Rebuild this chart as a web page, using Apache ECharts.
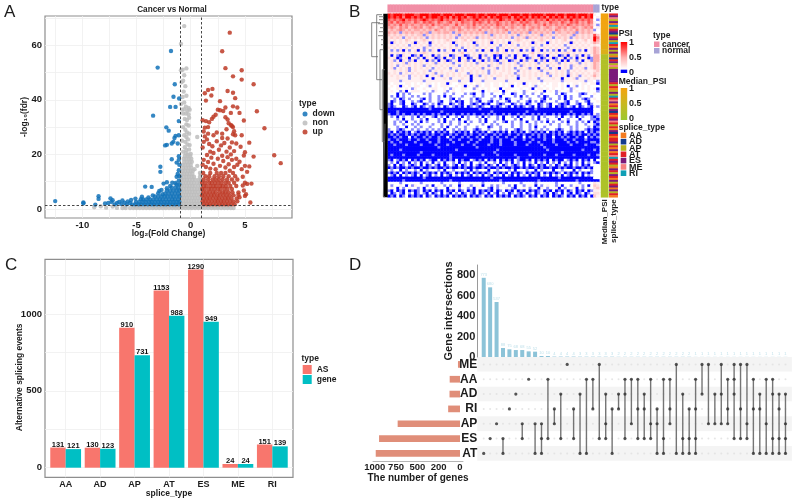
<!DOCTYPE html>
<html><head><meta charset="utf-8">
<style>html,body{margin:0;padding:0;background:#fff}#c{width:796px;height:502px}#c canvas{filter:blur(0.45px)}</style>
<script src="https://cdn.jsdelivr.net/npm/echarts@6/dist/echarts.min.js"></script>
</head><body><div id="c"></div>
<script>
// ---------- Panel A: volcano ----------
const volcanoDownSparse = [[-12.5,2.9],[-9.9,2.4],[-9.9,2.1],[-8.5,4.7],[-8.5,3.7],[-8.8,1.6],[-7.9,2],[-7.6,2.2],[-7.4,3.9],[-7.3,2.6],[-7.2,3.2],[-7,1.7],[-6.8,2.2],[-6.6,2.6],[-6.4,1.8],[-6.3,3.1],[-6.1,2.3],[-5.9,1.7],[-5.8,2.8],[-5.6,2.2],[-5.5,3.3],[-5.1,3.8],[-4.6,3.6],[-4.5,4.5],[-4.2,8.2],[-3.9,4.2],[-3.6,8.1],[-3.5,5],[-3,5.8],[-2.9,6.6],[-2.7,7],[-2.6,5.4],[-2.5,9.3],[-2.2,7.6],[-2.2,9.8],[-1.9,8.4],[-1.7,9.6],[-1.4,9.5],[-1.3,11.8],[-1.2,12.8],[-1.1,14.2],[-1.05,12],[-2.8,15.5],[-2.8,13.6],[-1.75,18.2],[-1.3,17],[-1.1,19.3],[-1.1,18],[-1.05,16.2],[-2.2,23.5],[-2.36,23.3],[-1.75,24],[-1.6,24.6],[-1.2,24],[-1.5,26],[-1.4,26.8],[-1.1,27],[-2.25,29.9],[-2.03,28.7],[-1.1,32.2],[-3.47,34.2],[-1.9,37.4],[-1.4,37.4],[-1.07,40.5],[-1.59,41.1],[-1.47,45.7],[-3.05,51.8],[-1.82,57.9]];
const volcanoDownRows = [[1.7,[-1.1,-1.4,-1.65,-1.95,-2.25,-2.5,-2.8,-3.1,-3.4,-3.65,-3.95,-4.25,-4.55,-4.8,-5.1,-5.4]],[2.6,[-1.05,-1.3,-1.6,-1.9,-2.15,-2.45,-2.75,-3,-3.3,-3.6,-3.85,-4.15,-4.45,-4.75,-5.05]],[3.5,[-1.15,-1.45,-1.7,-2,-2.3,-2.6,-2.85,-3.15,-3.45,-3.75,-4.1,-4.4]],[4.6,[-1.05,-1.3,-1.6,-1.85,-2.15,-2.4,-2.7,-3,-3.3]],[5.7,[-1.15,-1.45,-1.75,-2.05,-2.35]],[6.8,[-1.05,-1.3,-1.6,-1.9,-2.2]],[7.9,[-1.15,-1.4,-1.75]],[9,[-1.05,-1.3]],[10.4,[-1.1]]];
const volcanoNonSparse = [[-0.6,67],[-0.9,60.5],[-0.75,51],[-0.4,51.5],[-0.9,50.8],[-0.6,49],[-0.7,47],[-0.85,46.4],[-0.5,45],[-0.65,43],[-0.75,41],[-0.4,41.5],[-0.6,39],[-0.9,38.5],[-0.45,37.5],[-0.2,37],[-0.8,36.4],[-0.6,36.6],[-0.3,36],[-0.1,36.4],[-0.7,35],[-0.45,35],[-0.2,34.6],[-0.55,33],[-0.35,32.6],[-0.15,33.4],[-0.4,31],[-0.7,30],[-0.2,30.6],[-0.5,29],[-0.35,28],[-0.6,27],[-0.15,27.6],[-0.4,26.4],[-0.25,25.5],[-0.8,25],[0.6,26.4],[-0.5,24.6],[-0.3,23.6],[-0.1,23.4],[-0.55,22.6],[-0.4,21.6],[-0.15,21.8],[-0.7,21],[-0.45,20.4],[-0.25,20],[0,20.2],[-8.9,0.6],[-8.3,1],[-7.8,0.5],[-7.2,0.9],[-6.8,0.4],[0.85,13.2],[0.95,12.6],[0.6,15.8],[0.35,14.6]];
const volcanoNonRows = [[0.35,[-6.3,-6,-5.6,-5.3,-5,-4.7,-4.4,-4.1,-3.8,-3.5,-3.2,-2.9,-2.6,-2.3,-2,-1.7,-1.4,-1.1,-0.8,-0.5,-0.2,0.1,0.4,0.7,1,1.3,1.6,1.9,2.2,2.5,2.8,3.1,3.4,3.7,3.95]],[1,[-6.1,-5.2,-4.8,-4.3,-3.9,-3.4,-3,-2.7,-2.4,-2.1,-1.8,-1.5,-1.2,-0.9,-0.6,-0.3,0,0.3,0.6,0.9,1.2,1.5,1.8,2.1,2.5,3,3.5]],[1.9,[-0.9,-0.65,-0.4,-0.15,0.1,0.35,0.6,0.85]],[3,[-0.95,-0.7,-0.45,-0.2,0.05,0.3,0.55,0.8]],[4.1,[-0.85,-0.6,-0.35,-0.1,0.15,0.4,0.65,0.9]],[5.2,[-0.95,-0.7,-0.45,-0.2,0.05,0.3,0.55,0.8]],[6.3,[-0.85,-0.6,-0.35,-0.1,0.15,0.4,0.65,0.95]],[7.4,[-0.9,-0.65,-0.4,-0.15,0.1,0.35,0.6,0.85]],[8.5,[-0.85,-0.6,-0.35,-0.1,0.15,0.4,0.7,0.95]],[9.6,[-0.95,-0.7,-0.45,-0.2,0.05,0.3,0.6,0.85]],[10.7,[-0.85,-0.6,-0.35,-0.1,0.15,0.4,0.75,0.95]],[11.8,[-0.9,-0.65,-0.4,-0.15,0.1,0.3,0.85]],[12.9,[-0.85,-0.6,-0.35,-0.1,0.15]],[14,[-0.75,-0.5,-0.25,0,0.2]],[15.1,[-0.7,-0.45,-0.2,0.05]],[16.2,[-0.75,-0.5,-0.25,0]],[17.3,[-0.6,-0.35,-0.1,0.1]],[18.4,[-0.65,-0.4,-0.15,0.05]],[19.4,[-0.55,-0.3,-0.05]]];
const volcanoUpSparse = [[3.6,64.6],[2.9,57.8],[3.2,51.6],[4.7,50.8],[3.9,48.6],[4.7,47.4],[5.8,45.7],[2.0,44],[1.6,43.6],[3.4,43.2],[1.3,42.4],[3.9,42.6],[1.9,41.6],[4.1,40.6],[1.4,39.7],[2.7,39.5],[3.9,37.6],[4.3,37.2],[3.2,37.2],[6.1,35.8],[2.5,36.4],[2.7,36.2],[3,35.9],[3.7,35.2],[4.5,35.2],[2.3,34.5],[2.1,33.8],[3.2,33.6],[1.95,33],[1.1,32.5],[3.4,32.8],[1.4,32.2],[4.9,32.4],[1.7,31.8],[3.5,31.4],[3.8,30.4],[1.3,29.8],[3.7,30.8],[3.9,30],[6.8,29.6],[1.6,30],[3.3,29.2],[1.2,28.4],[4,28.5],[2.4,28],[2.9,27.6],[3.9,27.4],[1.6,27.6],[4.1,27],[2.1,27],[4.7,27],[1.3,26.6],[2.9,26],[1.5,25.5],[2.4,24.8],[3.4,25.8],[1.2,24.6],[3.1,24.2],[3.8,24.4],[5.4,24.3],[4.2,24],[1.7,23.8],[2,23],[2.8,23.3],[3.6,22.5],[4.6,22.8],[1.1,22.5],[2.6,21.7],[5,20.8],[1.8,21],[3.3,21],[2.1,20.5],[3.7,20],[4,21.2],[1.5,19.8],[2.9,19.5],[4.9,19.6],[5.8,19.2],[7.7,19.7],[1.9,18.8],[3.4,19],[4.2,18.4],[1.2,18],[2.5,18.4],[3,17.6],[3.8,18],[4.5,17.3],[8.3,16.8],[1.6,17.2],[2.1,16.6],[3.5,16.4],[4.3,16.2],[1.1,16.2],[2.7,15.8],[5,15.8],[4,15.4],[5.4,15.6],[1.4,15.4],[3.2,15.2],[1.8,14.8],[2.3,14.6],[4.7,14.6],[3.6,14],[5.2,13.6],[4.8,11.8],[5,9.6],[4.8,8.6],[5.2,9.2],[5.6,9.3],[4.9,6.8],[4.4,5.2],[5.1,5.4],[4.5,4.3],[5,4.8],[5.5,2.4]];
const volcanoUpRows = [[1.7,[1.2,1.5,1.75,2.05,2.35,2.65,2.9,3.2,3.45,3.75,4.05]],[2.8,[1.1,1.35,1.65,1.95,2.25,2.5,2.8,3.05,3.35,3.65,3.95,4.3]],[3.9,[1.2,1.5,1.75,2.05,2.35,2.6,2.9,3.2,3.45,3.75,4.25]],[5,[1.05,1.3,1.6,1.9,2.15,2.45,2.7,3,3.3,3.6,3.95]],[6.1,[1.15,1.45,1.75,2.05,2.3,2.65,2.95,3.2,3.5,3.85,4.4]],[7.3,[1.05,1.3,1.65,1.9,2.2,2.5,2.75,3.1,3.4,3.8]],[8.4,[1.2,1.45,1.8,2.1,2.35,2.7,2.95,3.25,3.65,4.2]],[9.6,[1.05,1.35,1.7,1.95,2.25,2.55,2.85,3.2,3.5,4]],[10.8,[1.2,1.6,2,2.3,2.6,2.95,3.35,3.8,4.3]],[12,[1.35,1.7,2.2,2.6,3,3.5,4.1]],[13.2,[1.15,1.8,2.4,2.8,3.2,3.9]]];
const fdrLine = 1.3, fcLines = [-1, 1];

// ---------- Panel C: bars ----------
const spliceTypes = ['AA','AD','AP','AT','ES','ME','RI'];
const asEvents   = [131,130,910,1153,1290,24,151];
const geneEvents = [121,123,731,988,949,24,139];

// ---------- Panel B: heatmap (digit 0..9 = PSI level, 0 blue, 2 white, 9 red) ----------
const heatRows = [
"9899989998 8999899989 9989998999 8998999899 9899989989 9998999899 8999899989 32",
"9898979989 8979899898 9798989789 8989798998 8979898979 8989798989 7989897989 23",
"8787897878 7898787897 8787987878 9787878798 7878979787 8787978787 8797878787 21",
"7868787768 7687876876 7867687768 7876867876 7687687876 8767687768 7687867687 32",
"7676867676 6767686767 7668676768 6767676876 7676768676 6768676767 6876767676 31",
"6765767567 6756765676 5676756767 6576756767 5676567567 6756765676 7567656767 23",
"5656765656 6565657656 5665765656 5756565656 7565656576 5656565765 6565756565 12",
"6565156565 5656155656 6515656565 6561565656 5156565615 6565651565 5656156565 32",
"5454545454 5515454545 4545145454 5454515454 5454154545 4515454545 5451545454 85",
"4545414545 4541454545 4541454545 1454545454 5414545154 5454541454 5414545454 97",
"4343435434 3454343434 5434345343 4343453434 3434543434 3454343434 5343434534 96",
"4043434340 4343043434 3404343430 4343403434 3043434340 4343043434 3404343434 65",
"3434343134 3434134343 3431343434 1343434313 4343134343 4313434343 1343434343 43",
"4343434343 4314343434 3434313434 3434343134 3434343431 3434343434 3134343434 65",
"3131403134 0313143031 3403130343 1303403134 0313403130 3403131403 1340313034 65",
"3434343434 3454343434 4343453434 3434344534 4343434345 3434343434 4534343434 65",
"3031043301 4034304134 3014340134 3041340103 4130430134 3014034301 4034130413 66",
"4340134034 1304340140 3413043013 4034130403 1340343014 3401340134 0413043401 66",
"3413043140 3430413034 0134034130 3403141034 3014304134 0314034130 4034130341 66",
"3434341434 3434341434 3413434343 1434343414 3434134343 4134343413 4343413434 65",
"3431343434 3413434343 4343134343 4343143434 3434314343 4343134343 4314343434 65",
"3413434134 3434313434 3134343434 3413434134 3431343413 4034313403 4313434134 65",
"3343434134 3343134343 3431343343 4343134334 3433134343 3413433434 3134343433 45",
"4343134343 4343341343 4343433143 4343134343 3431434343 4343143434 3143434343 54",
"3434343134 3430343413 4343434303 4134343443 4343134343 4343413434 3043413434 64",
"3334333133 3433303334 3133343303 3334331333 4333033343 3133334330 3334133343 43",
"3333133333 3313333333 3333133303 3313333333 1333333333 3313333331 3333333133 21",
"3233223323 2323323233 0322333232 3323323323 2332330323 3232323323 2323323323 30",
"2323032323 3223123233 3223230323 1323323323 2302323323 1323223323 2023123232 22",
"3223223213 2232233223 2132233221 3232322302 3322232230 2332323223 2213223232 30",
"2322130233 3223213223 1232232223 2302323320 3223221322 3230232132 2312322232 21",
"2220212122 2212122221 2212221210 2212212221 2201221221 2212222120 1222210122 32",
"2120212212 1222122120 2122212221 2212221202 2221202122 2120122212 0212212221 22",
"2212012122 2102122122 2102122212 0122212212 0122212212 2210212212 0212221012 32",
"2012102212 1022122102 2120102212 1022102122 1022122102 1201222122 1022122102 23",
"1022102201 2201212012 2012102210 1201022101 2201212012 2012102210 1022102201 22",
"1012201210 2012102120 1210102012 1012201012 1020101210 2012102010 1210201210 31",
"0000000000 0000100000 0000000000 0100000000 0000000000 1000000000 0000000000 22",
"0001000000 0000000010 0000000000 0000010000 0000000100 0000000000 0010000000 22",
"1001010010 1010010100 1010010101 0010101001 0100101001 0101001010 0101001010 31",
"2120212212 0212210212 0221202122 1202122120 2212021221 2021222120 2212021221 01",
"2221202212 2120222120 2212022122 2120222120 2221202221 2022122202 2122202221 10",
"2212120221 2021222120 2122120212 2120221221 0212212022 1212021221 2022121202 01",
"2212212212 1222212212 2122122122 2212212122 2212212212 1222212212 2122122122 10",
"2221220221 2122122212 0221221222 1222012212 2212212212 0221222212 2212122212 01",
"1221012212 1221212120 2212121221 0122122212 1221012212 1212122101 2212122101 00",
"1020101021 0101020101 0210101020 1010210101 0201010210 1010201010 2101010201 01",
"0101001010 1001010010 0101001010 0101001010 0100101001 0101001010 1001010010 10",
"0010100201 0010100100 2010010100 1020010100 1001002010 0101002001 0100100201 01",
"1001000100 1001000100 0100100010 0100010010 0010001001 0001001000 1001000100 00",
"0100100001 0000100100 0010000100 1000010010 0001000010 0100001000 0100100001 10",
"0010001000 0100001000 1000010001 0000100010 0001000100 0010000100 0010000100 01",
"0000000000 0000000100 0000000000 1000000000 0000000000 0001000000 0000000000 00",
"0000100000 0000000000 0001000000 0000000100 0000000000 0000100000 0000001000 10",
"0000000000 0100000000 0000000000 0000001000 0000000000 0000000001 0000000000 00",
"0100010000 1000010000 0100001000 0010000100 0001000010 0001000100 0001000010 01",
"0000000000 0000000000 0100000000 0000000000 0000100000 0000000000 0000000000 00",
"1021010201 0102100201 0102010021 0102010201 0102100102 0101020100 2101020102 02",
"2120212021 2021202120 2212021202 2120221202 1202120212 0212021202 1202120212 10",
"1202012101 2020121020 1210201202 1012012020 1210120201 2010212012 0102120102 22",
"0101001010 0100101001 0100101001 0010100101 0010010100 1010010010 1001001010 22",
"2122021221 2021222120 2212221202 1222022122 2120222122 0212220221 2220212221 22",
"1010201010 1201010201 0120101020 1010120101 0201012010 1020101012 0101020101 22",
"2102021210 2021021202 1021202102 1202102120 2102021202 1021202120 2102120212 22",
"0000000000 0010000000 0000000000 0000010000 0000000000 0000000010 0000000000 22",
"0000010000 0000000000 0100000000 0000000010 0000000000 0100000000 0000100000 00",
"2222122222 2122222212 2222122222 2212222221 2222212222 1222222122 2222212222 43",
"2122320213 2221202321 2122032212 3202212132 2120221232 0212322120 2212321202 54",
"2320212322 1202321222 0232122120 2322102122 3210223212 2032122302 1223021232 45",
"1020102010 1201020102 0102012010 2010102012 0102010201 0120102010 2012010201 33",
"2012102120 1210201202 1021201210 2012021021 2012102012 0121020120 2102012012 44",
"0102012010 1020120101 0201010201 0120102010 1020101201 0201020101 2010201020 53"
];
const sampleType = "c".repeat(70) + "nn";
const medianPsi = [0.98,0.97,0.95,0.92,0.9,0.85,0.8,0.72,0.25,0.24,0.25,0.23,0.24,0.22,0.22,0.23,0.21,0.22,0.2,0.21,0.2,0.2,0.19,0.2,0.2,0.19,0.18,0.2,0.19,0.18,0.2,0.19,0.18,0.19,0.18,0.2];
const spliceAnno = "TEMPEARPTEDPTEPRTAEPEPADTEPMPEEEEEEETPTAPEPRTMEATPEDTATEMTPTAEDTATTEPTAEATMRTETPAETPETAEPTEAEPTA";
const psiStops = ['#0000ff','#8c8cff','#ffffff','#fff0f0','#ffe0e0','#ffc8c8','#ffa8a8','#ff8080','#ff4d4d','#ff0000'];
const dendroSegs = [
 [[10,9],[1.7,9],[1.7,43],[8,43]],
 [[12,1],[6.7,1],[6.7,66],[12,66]],
 [[14,36],[10,36],[10,96],[14,96]],
 [[15,56],[12.3,56],[12.3,128],[15,128]],
 [[15,110],[13.3,110],[13.3,183],[15,183]],
 [[9,3],[14,3]],[[9,6],[14,6]],[[8,10],[14,10]],[[10,14],[14,14]],[[9,18],[14,18]],[[8,22],[14,22]],[[11,26],[14,26]],[[11,31],[14,31]]
];
const dendroTrunk = [[15.5,0],[15.5,183.6]];

// ---------- Panel D: upset ----------
const upsetSets = ['ME','AA','AD','RI','AP','ES','AT'];
const setSizes  = [24,121,123,139,731,949,988];
const upsetBars = [773,680,537,88,75,68,68,55,52,10,10,4,4,4,4,3,3,3,3,3,3,2,2,2,2,2,2,2,2,2,2,2,2,1,1,1,1,1,1,1,1,1,1,1,1,1,1,1];
const upsetCombos = ['AT','ES','AP','ES AT','RI','AD','AP ES','AA','AP AT','AP ES AT','AA ES','RI AP','AD ES','ME','RI ES','AD AT','AA AT','AA RI','ME ES','AD AP ES','RI AT','AD RI','AA AD ES','AA AP','AA RI ES','AD RI ES','AA AP ES','RI AP AT','AA ES AT','AA RI AP','ME AT','AD ES AT','RI ES AT','AA RI ES AT','ME AD','ME AP','AD AP','ME AD AP','AA RI AP','ME AA AD ES','ME RI ES','ME AP ES','AA RI AT','AD RI AT','AA AP AT','AA AD ES AT','AD RI ES AT','AD AP ES AT'];
const setTickValues = [0,250,500,750,1000];
const setTickLabels = ['0','200','500','750','1000'];

// ---------- styling ----------
const FONT = '"Liberation Sans", Arial, sans-serif';
const TXT = '#1c1c1c';
const FRAME = '#8e8e8e', GRID = '#efefef';
const T = (x,y,text,size,o={}) => ({type:'text',x,y,silent:true,style:{text,font:`${o.weight||'bold'} ${size}px ${FONT}`,fill:TXT,textAlign:o.align||'left',textVerticalAlign:'middle'}});
const R = (x,y,w,h,fill) => ({type:'rect',silent:true,shape:{x,y,width:w,height:h},style:{fill}});
const unrow = rows => rows.flatMap(([y,xs]) => xs.map(x => [x,y]));

const volcanoDown = volcanoDownSparse.concat(unrow(volcanoDownRows));
const volcanoNon = volcanoNonSparse.concat(unrow(volcanoNonRows));
const volcanoUp = volcanoUpSparse.concat(unrow(volcanoUpRows));

const heatCols = Array.from({length:72},(_,i)=>i);
const heatRowIdx = heatRows.map((_,i)=>i);
const heatData = [];
heatRows.forEach((row,r)=>{ const s=row.replace(/ /g,''); for(let c=0;c<s.length;c++) heatData.push([c,r,+s[c]]); });
const spliceCodes = {A:0,D:1,P:2,T:3,E:4,M:5,R:6};
const spliceColors = ['#f47b20','#123a8c','#b5b21e','#e01f26','#7b1a7a','#f58080','#0f9fb5'];

const hid = {show:false};
const grids = [
 {left:45,top:16,width:247,height:202,show:true,borderColor:FRAME,borderWidth:1.2,backgroundColor:'#fff'},
 {left:45,top:259.3,width:248,height:218,show:true,borderColor:FRAME,borderWidth:1.2,backgroundColor:'#fff'},
 {left:387.7,top:13.7,width:211.6,height:183.6},
 {left:387.7,top:4.7,width:211.6,height:7.6},
 {left:601,top:13.7,width:7.3,height:183.6},
 {left:609.3,top:13.7,width:8.4,height:183.6},
 {left:370,top:13.7,width:17.7,height:183.6},
 {left:477.3,top:265,width:314.6,height:92},
 {left:477.3,top:357,width:314.6,height:103.8},
 {left:373,top:357,width:90,height:103.8}
];
const labelStyle = {color:TXT,fontWeight:'bold',fontFamily:FONT};
const nameStyle = {color:TXT,fontWeight:'bold',fontFamily:FONT,fontSize:8.5};
const xAxes = [
 {gridIndex:0,type:'value',min:-13.44,max:9.34,name:'log₂(Fold Change)',nameLocation:'middle',nameMoveOverlap:false,nameGap:11,nameTextStyle:nameStyle,axisLine:hid,axisTick:{show:false,customValues:[-12.5,-10,-7.5,-5,-2.5,0,2.5,5,7.5]},axisLabel:Object.assign({customValues:[-10,-5,0,5],margin:2,fontSize:9.5},labelStyle),splitLine:{lineStyle:{color:GRID,width:0.8}}},
 {gridIndex:1,type:'value',min:-0.6,max:6.6,name:'splice_type',nameLocation:'middle',nameMoveOverlap:false,nameGap:11.5,nameTextStyle:nameStyle,axisLine:hid,axisTick:{show:false,customValues:[0,1,2,3,4,5,6]},axisLabel:Object.assign({customValues:[0,1,2,3,4,5,6],margin:3,fontSize:9,formatter:v=>spliceTypes[Math.round(v)]},labelStyle),splitLine:{lineStyle:{color:GRID,width:0.8}}},
 {gridIndex:2,type:'category',data:heatCols,show:false},
 {gridIndex:3,type:'category',data:heatCols,show:false},
 {gridIndex:4,type:'category',data:['Median_PSI'],axisLine:hid,axisTick:hid,axisLabel:Object.assign({rotate:90,fontSize:8,margin:2,interval:0},labelStyle)},
 {gridIndex:5,type:'category',data:['splice_type'],axisLine:hid,axisTick:hid,axisLabel:Object.assign({rotate:90,fontSize:8,margin:2,interval:0},labelStyle)},
 {gridIndex:6,type:'value',min:0,max:17.7,show:false},
 {gridIndex:7,type:'value',min:-1,max:48,show:false},
 {gridIndex:8,type:'value',min:-1,max:48,show:false},
 {gridIndex:9,type:'value',inverse:true,min:-35,max:1020,name:'The number of genes',nameLocation:'middle',nameMoveOverlap:false,nameGap:12,nameTextStyle:Object.assign({},nameStyle,{fontSize:10}),axisLine:{show:true,onZero:false,lineStyle:{color:'#b5b5b5',width:1}},axisTick:{show:false,customValues:setTickValues},axisLabel:Object.assign({customValues:setTickValues,margin:2,fontSize:9.5,formatter:v=>setTickLabels[setTickValues.indexOf(v)]},labelStyle),splitLine:hid}
];
const yAxes = [
 {gridIndex:0,type:'value',min:-3.3,max:70.7,name:'-log₁₀(fdr)',nameLocation:'middle',nameMoveOverlap:false,nameGap:16,nameTextStyle:nameStyle,axisLine:hid,axisTick:{show:false,customValues:[0,10,20,30,40,50,60,70]},axisLabel:Object.assign({customValues:[0,20,40,60],margin:3,fontSize:9.5},labelStyle),splitLine:{lineStyle:{color:GRID,width:0.8}}},
 {gridIndex:1,type:'value',min:-62.5,max:1356,name:'Alternative splicing events',nameLocation:'middle',nameMoveOverlap:false,nameGap:21,nameTextStyle:Object.assign({},nameStyle,{padding:[0,18,0,0]}),axisLine:hid,axisTick:{show:false,customValues:[0,250,500,750,1000,1250]},axisLabel:Object.assign({customValues:[0,500,1000],margin:3,fontSize:9.5,formatter:v=>String(v)},labelStyle),splitLine:{lineStyle:{color:GRID,width:0.8}}},
 {gridIndex:2,type:'category',inverse:true,data:heatRowIdx,show:false},
 {gridIndex:3,type:'category',data:['type'],show:false},
 {gridIndex:4,type:'category',inverse:true,data:medianPsi.map((_,i)=>i),show:false},
 {gridIndex:5,type:'category',inverse:true,data:spliceAnno.split('').map((_,i)=>i),show:false},
 {gridIndex:6,type:'value',inverse:true,min:0,max:183.6,show:false},
 {gridIndex:7,type:'value',min:0,max:898,interval:200,name:'Gene intersections',nameLocation:'middle',nameMoveOverlap:false,nameGap:23,nameTextStyle:Object.assign({},nameStyle,{fontSize:11}),axisLine:{show:true,onZero:false,lineStyle:{color:'#9a9a9a',width:1}},axisTick:hid,axisLabel:Object.assign({margin:2,fontSize:11},labelStyle),splitLine:hid},
 {gridIndex:8,type:'category',inverse:true,data:upsetSets,axisLine:{show:false,onZero:false},axisTick:hid,axisLabel:Object.assign({margin:0,fontSize:12,interval:0},labelStyle),splitLine:hid,splitArea:{show:true,interval:0,areaStyle:{color:['#f4f4f4','#ffffff']}}},
 {gridIndex:9,type:'category',inverse:true,data:upsetSets,show:false}
];

const refLines = {silent:true,symbol:'none',label:{show:false},animation:false,lineStyle:{color:'#333',type:[2.5,2],width:0.9},data:[{yAxis:fdrLine},{xAxis:fcLines[0]},{xAxis:fcLines[1]}]};
const volcano = (name,data,color) => ({name,type:'scatter',xAxisIndex:0,yAxisIndex:0,data,symbolSize:4.4,itemStyle:{color,opacity:0.85},silent:true,z:3});
const barS = (name,data,color) => ({name,type:'bar',xAxisIndex:1,yAxisIndex:1,barWidth:15.4,barGap:'0%',data:data.map((v,i)=>[i,v]),itemStyle:{color},label:{show:true,position:'top',distance:-1,fontSize:7.5,fontWeight:'bold',color:'#111',fontFamily:FONT,formatter:p=>p.value[1]},silent:true});

const bgDots = []; upsetCombos.forEach((_,c)=>upsetSets.forEach(s=>bgDots.push([c,s])));
const onDots = []; upsetCombos.forEach((combo,c)=>combo.split(' ').forEach(s=>onDots.push([c,s])));
const linkSeries = upsetCombos.map((combo,c)=>{const m=combo.split(' '); if(m.length<2) return null; const idx=m.map(s=>upsetSets.indexOf(s)).sort((a,b)=>a-b); return {type:'line',xAxisIndex:8,yAxisIndex:8,symbol:'none',silent:true,lineStyle:{color:'#757575',width:1.4},data:[[c,upsetSets[idx[0]]],[c,upsetSets[idx[idx.length-1]]]],z:3};}).filter(Boolean);

const series = [
 volcano('non',volcanoNon,'#bdbdbd'),
 volcano('down',volcanoDown,'#1272b8'),
 Object.assign(volcano('up',volcanoUp,'#bd3a26'),{markLine:refLines}),
 barS('AS',asEvents,'#F8766D'),
 barS('gene',geneEvents,'#00BFC4'),
 {id:'heat',type:'heatmap',xAxisIndex:2,yAxisIndex:2,data:heatData,progressive:0,silent:true},
 {id:'top',type:'heatmap',xAxisIndex:3,yAxisIndex:3,data:sampleType.split('').map((t,i)=>[i,0,t==='c'?0:1]),progressive:0,silent:true},
 {id:'med',type:'heatmap',xAxisIndex:4,yAxisIndex:4,data:medianPsi.map((v,i)=>[0,i,v]),progressive:0,silent:true},
 {id:'spl',type:'heatmap',xAxisIndex:5,yAxisIndex:5,data:spliceAnno.split('').map((k,i)=>[0,i,spliceCodes[k]]),progressive:0,silent:true},
 {type:'line',xAxisIndex:6,yAxisIndex:6,symbol:'none',silent:true,lineStyle:{color:'#000',width:4.4},data:dendroTrunk},
 ...dendroSegs.map(seg=>({type:'line',xAxisIndex:6,yAxisIndex:6,symbol:'none',silent:true,lineStyle:{color:'#666',width:0.8},data:seg})),
 {name:'intersections',type:'bar',xAxisIndex:7,yAxisIndex:7,barWidth:4,data:upsetBars.map((v,i)=>[i,v]),itemStyle:{color:'#8cc3d8'},silent:true,label:{show:true,position:'top',distance:1,fontSize:4,color:'#bfe0ea',fontFamily:FONT,formatter:p=>p.value[1]}},
 {type:'scatter',xAxisIndex:8,yAxisIndex:8,data:bgDots,symbolSize:2,itemStyle:{color:'#e0e0e0'},silent:true,z:2},
 ...linkSeries,
 {type:'scatter',xAxisIndex:8,yAxisIndex:8,data:onDots,symbolSize:3.2,itemStyle:{color:'#2e2e2e'},silent:true,z:4},
 {type:'bar',xAxisIndex:9,yAxisIndex:9,barWidth:6.7,data:setSizes,itemStyle:{color:'#e08e79'},silent:true}
];
const serIdx = id => series.findIndex(s=>s.id===id);

const g = (x,y,h,stops) => ({type:'rect',silent:true,shape:{x,y,width:6.5,height:h},style:{fill:new echarts.graphic.LinearGradient(0,0,0,1,stops)}});
const graphic = [
 T(4,12,'A',17,{weight:'normal'}),T(349,12,'B',17,{weight:'normal'}),T(5,265,'C',17,{weight:'normal'}),T(349,265,'D',17,{weight:'normal'}),
 T(172,10,'Cancer vs Normal',8.2,{align:'center'}),
 T(299,104,'type',8.5),
 T(301.5,358.5,'type',8.5),
 T(601.5,8,'type',8.5),
 T(618.7,34,'PSI',8.5),
 g(620.7,42,31,[{offset:0,color:'#ff0000'},{offset:0.5,color:'#ffb0b0'},{offset:0.88,color:'#ffffff'},{offset:0.9,color:'#0000ff'},{offset:1,color:'#0000ff'}]),
 T(629,43,'1',9),T(629,58,'0.5',9),T(629,73,'0',9),
 T(618.7,82,'Median_PSI',8.5),
 g(620.7,88,32,[{offset:0,color:'#f5a30f'},{offset:0.5,color:'#c8b820'},{offset:1,color:'#9cc82c'}]),
 T(629,89,'1',9),T(629,104,'0.5',9),T(629,119,'0',9),
 T(618.7,127.7,'splice_type',8.5),
 ...spliceTypes.flatMap((s,i)=>[R(620.7,132.6+i*6.3,5.6,5.6,spliceColors[i]),T(629,135.6+i*6.3,s,9)]),
 T(653,35.7,'type',8.5),
 R(654,41.5,5.5,5.5,'#f18ea6'),T(662,44.3,'cancer',8.5),
 R(654,48,5.5,5.5,'#a7a3d6'),T(662,51,'normal',8.5)
];

const chart = echarts.init(document.getElementById('c'),null,{renderer:'canvas'});
chart.setOption({
 animation:false,backgroundColor:'#fff',
 textStyle:{fontFamily:FONT},
 grid:grids,xAxis:xAxes,yAxis:yAxes,series,graphic,
 visualMap:[
  {type:'continuous',show:false,seriesIndex:serIdx('heat'),dimension:2,min:0,max:9,inRange:{color:psiStops}},
  {type:'continuous',show:false,seriesIndex:serIdx('top'),dimension:2,min:0,max:1,inRange:{color:['#f18ea6','#a7a3d6']}},
  {type:'continuous',show:false,seriesIndex:serIdx('med'),dimension:2,min:0,max:1,inRange:{color:['#9cc82c','#c8b820','#f5a30f']}},
  {type:'piecewise',show:false,seriesIndex:serIdx('spl'),dimension:2,pieces:spliceColors.map((color,value)=>({value,color}))}
 ],
 legend:[
  {data:['down','non','up'],orient:'vertical',padding:0,left:302.5,top:109.5,itemWidth:5,itemHeight:5,itemGap:0,selectedMode:false,textStyle:{fontSize:8.5,fontWeight:'bold',color:TXT,fontFamily:FONT}},
  {data:['AS','gene'],orient:'vertical',padding:0,left:302.7,top:365,itemWidth:9,itemHeight:9,itemGap:1,icon:'rect',selectedMode:false,textStyle:{fontSize:8.5,fontWeight:'bold',color:TXT,fontFamily:FONT}}
 ]
});
</script></body></html>
